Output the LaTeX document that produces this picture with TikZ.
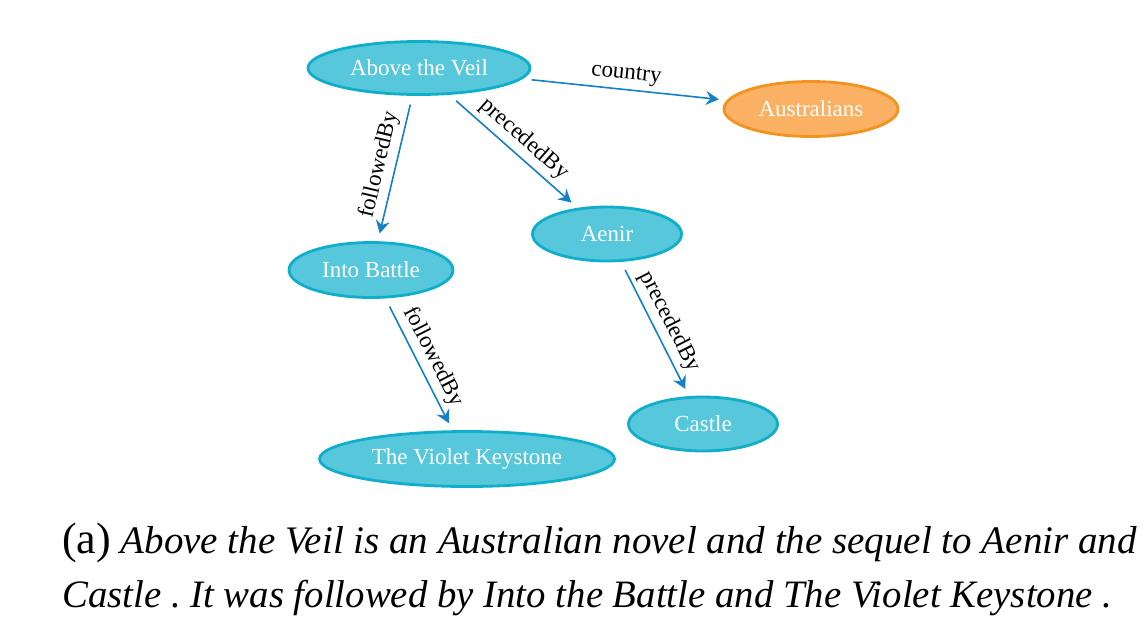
\documentclass[tikz,border=0pt]{standalone}
\usepackage{fontspec}
\setmainfont{Liberation Serif}
\usetikzlibrary{arrows.meta,shapes.geometric}
\definecolor{entfill}{HTML}{57C7DB}
\definecolor{entline}{HTML}{0FAECB}
\definecolor{litfill}{HTML}{FBB163}
\definecolor{litline}{HTML}{F3921F}
\definecolor{reledge}{HTML}{1580C8}
\tikzset{
  entity/.style={ellipse, draw=entline, fill=entfill, line width=2.8pt,
    text=white, inner sep=0pt, font=\fontsize{23}{26}\selectfont},
  literal/.style={entity, draw=litline, fill=litfill},
  rel/.style={draw=reledge, line width=1.6pt,
    -{Stealth[length=13pt,width=14pt,inset=4.5pt]},
    shorten <=9pt, shorten >=8pt},
  rellabel/.style={sloped, above=4pt, inner sep=1pt, text=black,
    font=\fontsize{23}{26}\selectfont},
  captext/.style={anchor=base west, inner sep=0pt}
}
\begin{document}
\frenchspacing
\begin{tikzpicture}[x=1pt,y=-1pt]
\useasboundingbox (0,0) rectangle (1145,625);

% entities
\node[entity, minimum width=222pt, minimum height=53pt] (veil) at (419,68) {Above the Veil};
\node[literal, minimum width=174pt, minimum height=55pt] (aus) at (811,109) {Australians};
\node[entity, minimum width=149pt, minimum height=54pt] (aenir) at (607,234) {Aenir};
\node[entity, minimum width=164pt, minimum height=55pt] (battle) at (371,270) {Into Battle};
\node[entity, minimum width=149pt, minimum height=54pt] (castle) at (703,424) {Castle};
\node[entity, minimum width=295pt, minimum height=55pt] (violet) at (467,459) {The Violet Keystone};

% relations
\draw[rel] (veil) -- node[rellabel] {country} (aus);
\draw[rel] (veil) -- node[rellabel] {followedBy} (battle);
\draw[rel] (veil) -- node[rellabel] {precededBy} (aenir);
\draw[rel] (battle) -- node[rellabel] {followedBy} (violet);
\draw[rel] (aenir) -- node[rellabel] {precededBy} (castle);

% caption
\node[captext] (cap1) at (62,553) {{\fontsize{44}{48}\selectfont(a)}\fontsize{39}{44}\selectfont\itshape{} Above the Veil is an Australian novel and the sequel to Aenir and};
\node[captext] (cap2) at (62,607) {\fontsize{38.8}{44}\selectfont\itshape Castle . It was followed by Into the Battle and The Violet Keystone .};
\end{tikzpicture}
\end{document}
